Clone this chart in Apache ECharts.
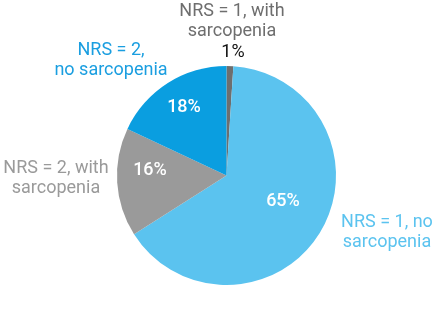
<!DOCTYPE html>
<html>
<head>
<meta charset="utf-8">
<script src="https://cdn.jsdelivr.net/npm/echarts@6/dist/echarts.min.js"></script>
<style>html,body{margin:0;padding:0;background:#fff}#c{width:440px;height:314px}</style>
</head>
<body>
<div id="c"></div>
<script>
var categories = ['NRS = 1, with\nsarcopenia', 'NRS = 1, no\nsarcopenia', 'NRS = 2, with\nsarcopenia', 'NRS = 2,\nno sarcopenia'];
var values = [1, 65, 16, 18];

var sliceColors = ['#6e6e6e', '#5bc3ef', '#9a9a9a', '#0a9ee0'];
var nameColors = ['#6e6e6e', '#5bc3ef', '#9a9a9a', '#1a9ee0'];
var pctColors = ['#111111', '#ffffff', '#ffffff', '#ffffff'];
var pctWeights = ['normal', 500, 500, 500];
var pctPos = [[233, 52], [283, 201], [150, 170], [184, 107]];
var namePos = [[232, 21], [387, 232], [56, 178], [111, 60]];
var center = [226.5, 175.5];
var radius = 109.5;
var font = 'Roboto';

var chart = echarts.init(document.getElementById('c'), null, {renderer: 'canvas'});
chart.setOption({
  animation: false,
  series: [
    {
      type: 'pie',
      center: center,
      radius: radius,
      startAngle: 90,
      clockwise: true,
      silent: true,
      itemStyle: {borderWidth: 0},
      label: {
        show: true,
        position: 'inside',
        formatter: '{c}%',
        fontFamily: font,
        fontSize: 18,
        lineHeight: 20
      },
      labelLine: {show: false},
      labelLayout: function (p) {
        var q = pctPos[p.dataIndex];
        return {x: q[0], y: q[1], align: 'center', verticalAlign: 'middle'};
      },
      data: values.map(function (v, i) {
        return {
          value: v,
          name: categories[i],
          itemStyle: {color: sliceColors[i]},
          label: {color: pctColors[i], fontWeight: pctWeights[i]}
        };
      })
    },
    {
      type: 'pie',
      center: center,
      radius: radius,
      startAngle: 90,
      clockwise: true,
      silent: true,
      itemStyle: {color: 'rgba(0,0,0,0)', borderWidth: 0},
      label: {
        show: true,
        position: 'inside',
        formatter: '{b}',
        fontFamily: font,
        fontSize: 18,
        lineHeight: 20,
        align: 'center'
      },
      labelLine: {show: false},
      labelLayout: function (p) {
        var q = namePos[p.dataIndex];
        return {x: q[0], y: q[1], align: 'center', verticalAlign: 'middle'};
      },
      data: values.map(function (v, i) {
        return {
          value: v,
          name: categories[i],
          label: {color: nameColors[i]}
        };
      })
    }
  ]
});
</script>
</body>
</html>
